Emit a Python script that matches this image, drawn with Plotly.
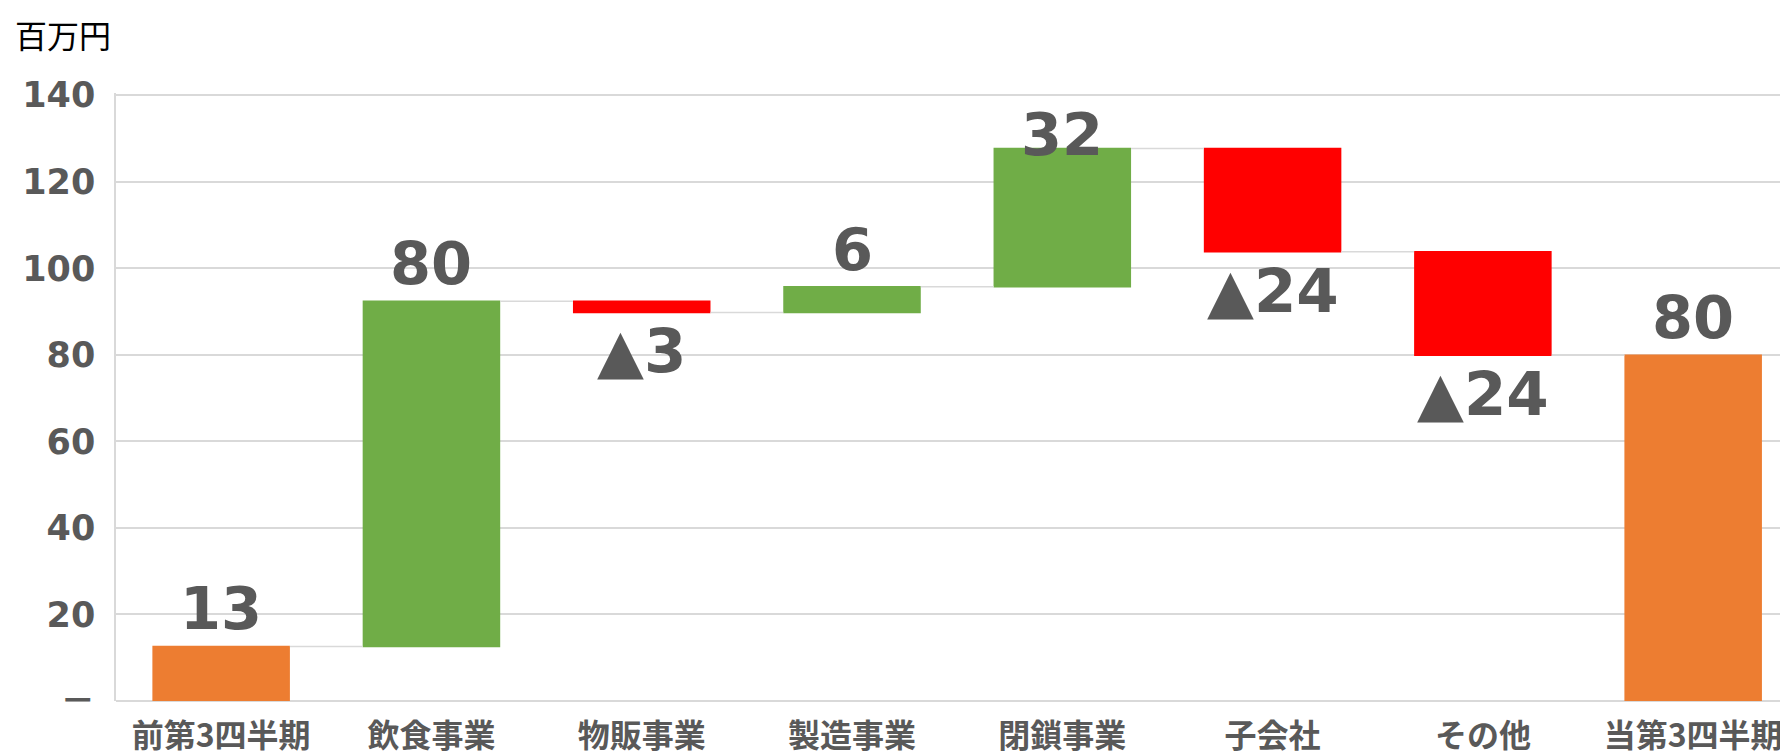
import numpy as np
import plotly.graph_objects as go

# ---- data ----
categories = ["前第3四半期", "飲食事業", "物販事業", "製造事業", "閉鎖事業", "子会社", "その他", "当第3四半期"]
measures = ["absolute", "relative", "relative", "relative", "relative", "relative", "relative", "total"]
values = [12.6, 79.8, -2.6, 5.9, 32.0, -23.9, -23.9, 0]
labels = ["13", "80", "▲3", "6", "32", "▲24", "▲24", "80"]
y_ticks = [0, 20, 40, 60, 80, 100, 120, 140]
y_ticktext = ["－", "20", "40", "60", "80", "100", "120", "140"]
unit_label = "百万円"

Y_MAX = 140
GREEN = "#70AD47"
RED = "#FF0000"
ORANGE = "#ED7D31"
GRAY_TXT = "#595959"
GRID = "#D9D9D9"
FONT = "DejaVu Sans, Noto Sans CJK JP, sans-serif"
LABEL_FONT = dict(family=FONT, size=59, color=GRAY_TXT, weight="bold")
NEG_FONT = dict(family=FONT, size=61, color=GRAY_TXT, weight="bold")

# bar extents (for label placement)
vals = np.array(values, dtype=float)
tops, bottoms = [], []
prev = 0.0
for i, m in enumerate(measures):
    if m == "absolute":
        lo, hi = 0.0, vals[i]
        prev = vals[i]
    elif m == "total":
        lo, hi = 0.0, prev
    else:
        a, b = prev, prev + vals[i]
        lo, hi = min(a, b), max(a, b)
        prev = b
    tops.append(hi)
    bottoms.append(lo)

fig = go.Figure()
fig.add_trace(go.Waterfall(
    x=categories,
    y=values,
    measure=measures,
    increasing=dict(marker=dict(color=GREEN)),
    decreasing=dict(marker=dict(color=RED)),
    totals=dict(marker=dict(color=ORANGE)),
    connector=dict(line=dict(color=GRID, width=1.5), mode="between"),
    textinfo="none",
    hoverinfo="x+y",
))

annotations = []
for i, (lab, m) in enumerate(zip(labels, measures)):
    neg = (m == "relative" and vals[i] < 0)
    if neg:
        annotations.append(dict(x=i, y=bottoms[i], text=lab, showarrow=False,
                                yanchor="top", xanchor="center", yshift=-1,
                                font=NEG_FONT))
    elif tops[i] > 118:
        annotations.append(dict(x=i, y=Y_MAX, text=lab, showarrow=False,
                                yanchor="top", xanchor="center", yshift=-3,
                                font=LABEL_FONT))
    else:
        annotations.append(dict(x=i, y=tops[i], text=lab, showarrow=False,
                                yanchor="bottom", xanchor="center", yshift=1,
                                font=LABEL_FONT))

annotations.append(dict(x=0, y=1, xref="paper", yref="paper", xshift=-103, yshift=84,
                        text=unit_label, showarrow=False, xanchor="left", yanchor="top",
                        font=dict(family="Noto Sans CJK JP", size=32, color="#000000")))

fig.update_layout(
    width=1788, height=754,
    margin=dict(l=108, r=0, t=85, b=61),
    plot_bgcolor="white", paper_bgcolor="white",
    showlegend=False,
    waterfallgap=0.346,
    annotations=annotations,
    xaxis=dict(
        range=[-0.5, 7.489], showgrid=False, showline=False, ticks="",
        tickfont=dict(family="Noto Sans CJK JP", size=32, color=GRAY_TXT, weight="bold"),
        ticklabelstandoff=13, automargin=False,
    ),
    yaxis=dict(
        range=[0, Y_MAX + 0.5], tickvals=y_ticks, ticktext=y_ticktext,
        showgrid=True, gridcolor=GRID, gridwidth=1.5,
        showline=True, linecolor=GRID, linewidth=1.5,
        zeroline=True, zerolinecolor=GRID, zerolinewidth=1.5,
        ticks="", ticklabelstandoff=12, automargin=False,
        tickfont=dict(family=FONT, size=35, color=GRAY_TXT, weight="bold"),
    ),
)

fig.write_html("out.html")
